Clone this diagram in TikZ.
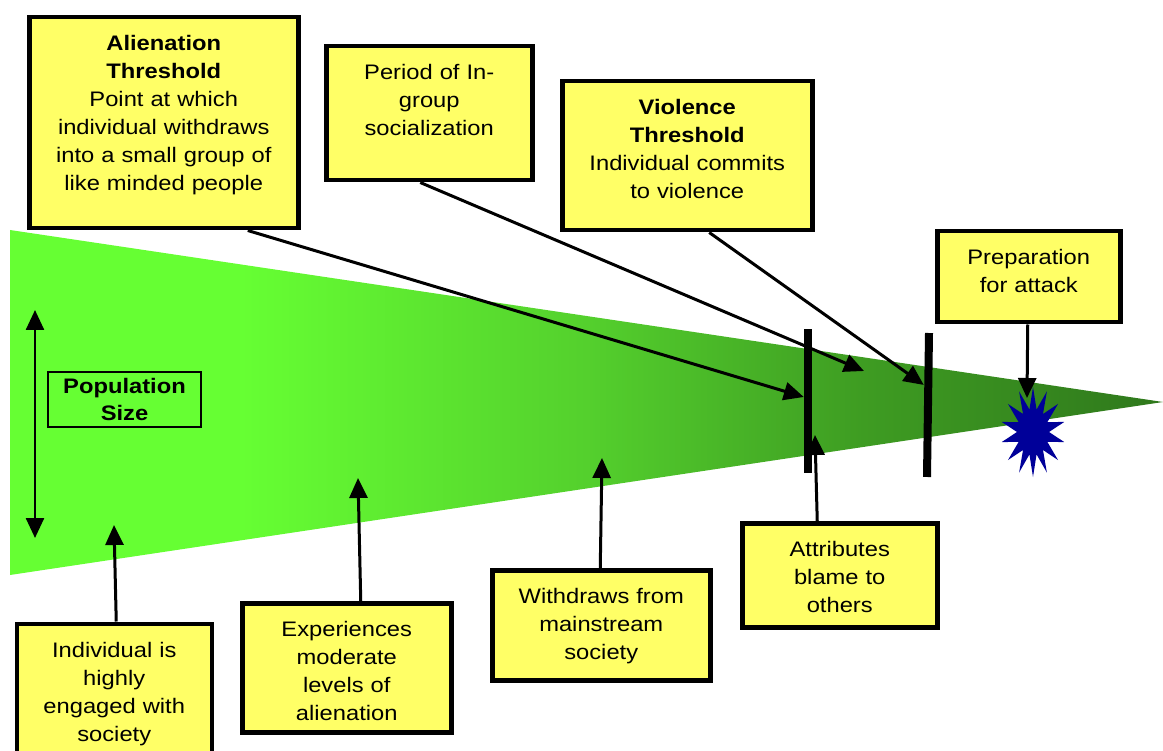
\documentclass[tikz,border=0pt]{standalone}
\usepackage{fontspec}
\setmainfont{Liberation Sans}[FakeStretch=1.13]
\usepackage{tikz}
\usetikzlibrary{arrows.meta, shapes}

\definecolor{panelyellow}{RGB}{255,255,102}
\definecolor{greenA}{RGB}{102,255,51}
\definecolor{greenB}{RGB}{84,208,45}
\definecolor{greenC}{RGB}{62,156,34}
\definecolor{greenD}{RGB}{47,120,28}
\definecolor{burstblue}{RGB}{0,0,153}
\pgfdeclarehorizontalshading{wedgeshade}{100bp}{color(0bp)=(greenA); color(35bp)=(greenA); color(50bp)=(greenB); color(62bp)=(greenC); color(75bp)=(greenD); color(100bp)=(greenD)}

\tikzset{
  panel/.style={draw, line width=4.5pt, fill=panelyellow, anchor=north west, align=center,
    inner xsep=4pt, inner ysep=17.5pt, text height=16pt, font=\fontsize{21}{28}\selectfont},
  divider/.style={fill=black, inner sep=0pt, minimum width=8pt, minimum height=144pt},
}

\begin{document}
\begin{tikzpicture}[x=1pt, y=-1pt, >={Triangle[length=20pt, width=18pt]}]
            \useasboundingbox (0,0) rectangle (1163,751);
            \shade[shading=wedgeshade] (10,230) -- (1163,402) -- (10,575) -- cycle;

            \node[panel, text width=261pt, text depth=160pt] (alien) at (27,15) {\textbf{Alienation}\\\textbf{Threshold}\\Point at which\\individual withdraws\\into a small group of\\like minded people};
            \node[panel, text width=198pt, text depth=83pt] (ingroup) at (324,44) {Period of In-\\group\\socialization};
            \node[panel, text width=242pt, text depth=98pt] (violence) at (560,79) {\textbf{Violence}\\\textbf{Threshold}\\Individual commits\\to violence};
            \node[panel, text width=175pt, text depth=40pt] (prep) at (935,229) {Preparation\\for attack};
            \node[panel, text width=187pt, text depth=110pt] (engaged) at (14.5,621.5) {Individual is\\highly\\engaged with\\society};
            \node[panel, text width=201pt, text depth=78pt] (moderate) at (240,601) {Experiences\\moderate\\levels of\\alienation};
            \node[panel, text width=210pt, text depth=59pt] (withdraw) at (490,568) {Withdraws from\\mainstream\\society};
            \node[panel, text width=187pt, text depth=53pt] (blame) at (740,521) {Attributes\\blame to\\others};
            \node[draw, line width=2pt, align=center, minimum width=153pt, minimum height=55pt, inner sep=0pt,
              font=\fontsize{21}{27}\selectfont\bfseries] (popsize) at (124.5,399.5) {Population\\Size};

            \node[divider] (bar1) at (808,401) {};
            \node[divider, rotate=-0.8] (bar2) at (928,405) {};
            \coordinate (burst) at (1033,432);
            \fill[burstblue, shift={(burst)}] plot[samples at={0,...,27}, variable=\k]
              ({(mod(\k,2)==0 ? 32 : 16)*cos(\k*360/28+90)}, {(mod(\k,2)==0 ? 45 : 23)*sin(\k*360/28+90)}) -- cycle;

            \coordinate (grouptip) at (864,371);
            \coordinate (blast) at (1027,398);
            \coordinate (bar1foot) at (815,435);
            \coordinate (withdrawtip) at (602,458);
            \coordinate (moderatetip) at (358,478);
            \coordinate (engagedtip) at (114,525);
            \coordinate (sizetop) at (35,310);
            \coordinate (sizebottom) at (35,538);

            \path[->, line width=3pt] ([xshift=84pt]alien.south) edge ([yshift=4pt]bar1.west)
              ([xshift=-9pt]ingroup.south) edge (grouptip)
              ([xshift=22pt]violence.south) edge ([yshift=20pt]bar2.west)
              ([xshift=-1pt]prep.south) edge (blast)
              ([xshift=-22.5pt]blame.north) edge (bar1foot)
              ([xshift=-1pt]withdraw.north) edge (withdrawtip)
              ([xshift=14pt]moderate.north) edge (moderatetip)
              ([xshift=2pt]engaged.north) edge (engagedtip);
            \path[<->, line width=2.5pt] (sizetop) edge (sizebottom);
        \end{tikzpicture}
\end{document}
